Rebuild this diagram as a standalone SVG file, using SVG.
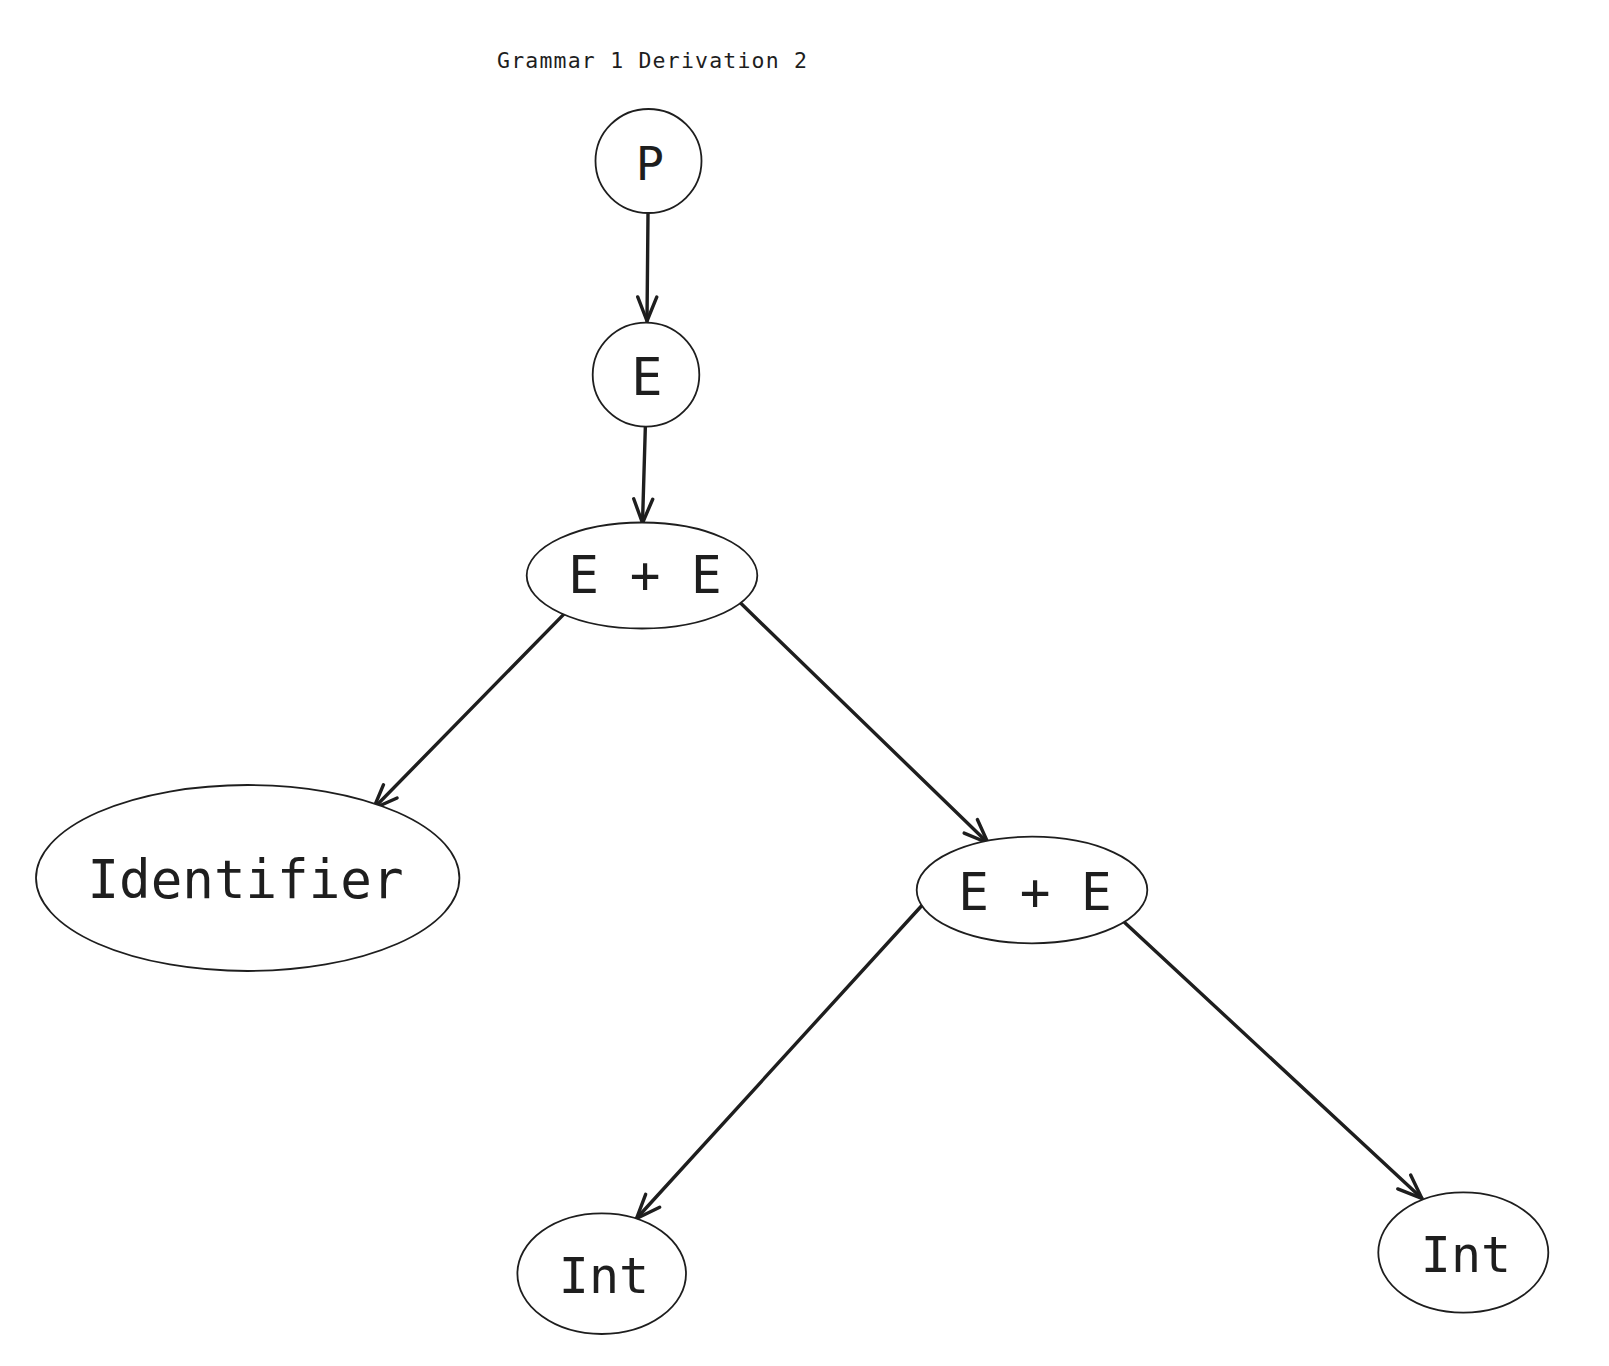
<svg xmlns="http://www.w3.org/2000/svg" width="1609" height="1366" viewBox="0 0 1609 1366">
<style>
.node{fill:#ffffff;stroke:#1e1e1e;stroke-width:1.8}
.lbl{font-family:"DejaVu Sans Mono","Liberation Mono",monospace;fill:#1e1e1e;text-anchor:middle}
.title{font-family:"DejaVu Sans Mono","Liberation Mono",monospace;fill:#1e1e1e}
.edge{fill:none;stroke:#1e1e1e;stroke-width:3.4;stroke-linecap:round}
</style>
<defs>
<marker id="arr" markerUnits="userSpaceOnUse" markerWidth="32" markerHeight="26" viewBox="-30 -13 32 26" refX="0" refY="0" orient="auto">
<path d="M-24,-9.5 L0,0 L-24,9.5" fill="none" stroke="#1e1e1e" stroke-width="3.4" stroke-linecap="round" stroke-linejoin="round"/>
</marker>
</defs>
<rect width="1609" height="1366" fill="#ffffff"/>
<text class="title" x="497" y="68" font-size="21.5" textLength="310" lengthAdjust="spacing">Grammar 1 Derivation 2</text>
<g id="connectors">
<path class="edge" d="M648,214 L647,321" marker-end="url(#arr)"/>
<path class="edge" d="M645.4,425 L642.5,523" marker-end="url(#arr)"/>
<path class="edge" d="M565.4,612.6 L373.5,808.5" marker-end="url(#arr)"/>
<path class="edge" d="M739.8,602.3 L988,843" marker-end="url(#arr)"/>
<path class="edge" d="M921.4,906 L636.5,1218.5" marker-end="url(#arr)"/>
<path class="edge" d="M1124.6,922.5 L1421.8,1198.3" marker-end="url(#arr)"/>
</g>
<g id="node-P">
<ellipse class="node" cx="648.5" cy="161" rx="53" ry="52"/>
<text class="lbl" x="650" y="180" font-size="47">P</text>
</g>
<g id="node-E">
<ellipse class="node" cx="646" cy="374.7" rx="53.3" ry="52"/>
<text class="lbl" x="647" y="395" font-size="52">E</text>
</g>
<g id="node-EplusE1">
<ellipse class="node" cx="642" cy="575.5" rx="115.3" ry="53"/>
<text class="lbl" x="645" y="593.3" font-size="51">E + E</text>
</g>
<g id="node-Identifier">
<ellipse class="node" cx="247.7" cy="878" rx="211.7" ry="93"/>
<text class="lbl" x="245.5" y="897.7" font-size="52.5">Identifier</text>
</g>
<g id="node-EplusE2">
<ellipse class="node" cx="1032" cy="890" rx="115.3" ry="53.3"/>
<text class="lbl" x="1035" y="910" font-size="51">E + E</text>
</g>
<g id="node-Int1">
<ellipse class="node" cx="601.7" cy="1273.7" rx="84.3" ry="60.3"/>
<text class="lbl" x="604" y="1293.3" font-size="50">Int</text>
</g>
<g id="node-Int2">
<ellipse class="node" cx="1463.3" cy="1252.5" rx="85" ry="60.2"/>
<text class="lbl" x="1466" y="1271.7" font-size="50">Int</text>
</g>
</svg>
